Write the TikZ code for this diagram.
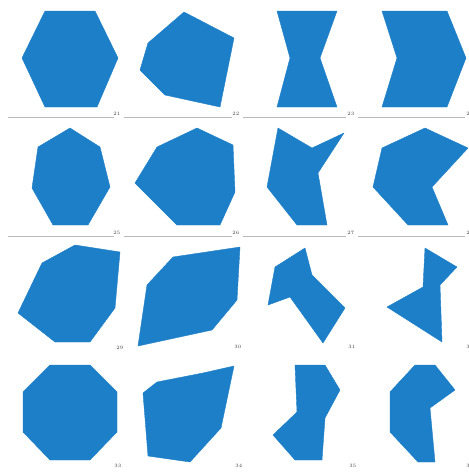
\documentclass[tikz,border=0pt]{standalone}
\usepackage{tikz}
\definecolor{polyblue}{RGB}{28,127,200}
\tikzset{
  poly/.style={fill=polyblue, draw=polyblue, line width=0.4pt, line join=round},
  sep/.style={draw=gray!55, line width=0.5pt},
  idx/.style={font=\tiny, text=black!75, inner sep=0.5pt, anchor=south east}
}

\begin{document}
\begin{tikzpicture}[x=1pt, y=-1pt]
  \useasboundingbox (0,0) rectangle (469,472);
  % row 1
  \draw[poly] (45,11) -- (95,11) -- (118,58) -- (97,107) -- (45,107) -- (22,58) -- cycle;
  \draw[poly] (184,12) -- (234,38) -- (220,107) -- (165,95) -- (140,70) -- (148,43) -- cycle;
  \draw[poly] (277,11) -- (337,11) -- (320,58) -- (337,107) -- (277,107) -- (290,58) -- cycle;
  \draw[poly] (382,11) -- (447,11) -- (466,58) -- (447,107) -- (382,107) -- (397,58) -- cycle;
  \node[idx] (l21) at (121,116) {21};
  \node[idx] (l22) at (240,116) {22};
  \node[idx] (l23) at (355,116) {23};
  \node[idx] (l24) at (474,116) {24};
  \draw[sep] (8,117) -- (114,117);
  \draw[sep] (124,117) -- (232,117);
  \draw[sep] (243,117) -- (346,117);
  \draw[sep] (358,117) -- (465,117);
  % row 2
  \draw[poly] (70,128) -- (100,147) -- (110,187) -- (88,225) -- (53,225) -- (32,188) -- (38,147) -- cycle;
  \draw[poly] (197,128) -- (233,145) -- (235,192) -- (220,225) -- (177,225) -- (135,183) -- (157,147) -- cycle;
  \draw[poly] (278,128) -- (312,148) -- (344,133) -- (318,173) -- (327,225) -- (297,225) -- (267,187) -- cycle;
  \draw[poly] (425,128) -- (468,148) -- (432,187) -- (448,225) -- (408,225) -- (373,187) -- (382,148) -- cycle;
  \node[idx] (l25) at (121,235) {25};
  \node[idx] (l26) at (240,235) {26};
  \node[idx] (l27) at (355,235) {27};
  \node[idx] (l28) at (474,235) {28};
  \draw[sep] (8,236) -- (114,236);
  \draw[sep] (124,236) -- (232,236);
  \draw[sep] (243,236) -- (346,236);
  \draw[sep] (358,236) -- (465,236);
  % row 3
  \draw[poly] (75,245) -- (120,252) -- (115,308) -- (90,342) -- (55,342) -- (18,313) -- (42,263) -- cycle;
  \draw[poly] (173,257) -- (240,247) -- (237,300) -- (212,330) -- (138,346) -- (147,285) -- cycle;
  \draw[poly] (305,248) -- (312,275) -- (345,308) -- (323,343) -- (290,297) -- (268,305) -- (275,267) -- cycle;
  \draw[poly] (425,248) -- (457,267) -- (440,285) -- (442,342) -- (387,307) -- (423,287) -- cycle;
  \node[idx] (l29) at (124,350) {29};
  \node[idx] (l30) at (242,349) {30};
  \node[idx] (l31) at (356,349) {31};
  \node[idx] (l32) at (474,349) {32};
  % row 4
  \draw[poly] (50,365) -- (90,365) -- (117,392) -- (117,432) -- (90,460) -- (50,460) -- (23,432) -- (23,392) -- cycle;
  \draw[poly] (157,382) -- (203,373) -- (234,366) -- (221,428) -- (190,462) -- (148,456) -- (143,393) -- cycle;
  \draw[poly] (295,365) -- (325,365) -- (340,390) -- (325,418) -- (322,460) -- (295,460) -- (273,435) -- (297,412) -- cycle;
  \draw[poly] (415,365) -- (435,365) -- (455,390) -- (430,408) -- (435,462) -- (418,462) -- (390,432) -- (390,392) -- cycle;
  \node[idx] (l33) at (122,468) {33};
  \node[idx] (l34) at (243,468) {34};
  \node[idx] (l35) at (357,468) {35};
  \node[idx] (l36) at (474,468) {36};
\end{tikzpicture}
\end{document}
